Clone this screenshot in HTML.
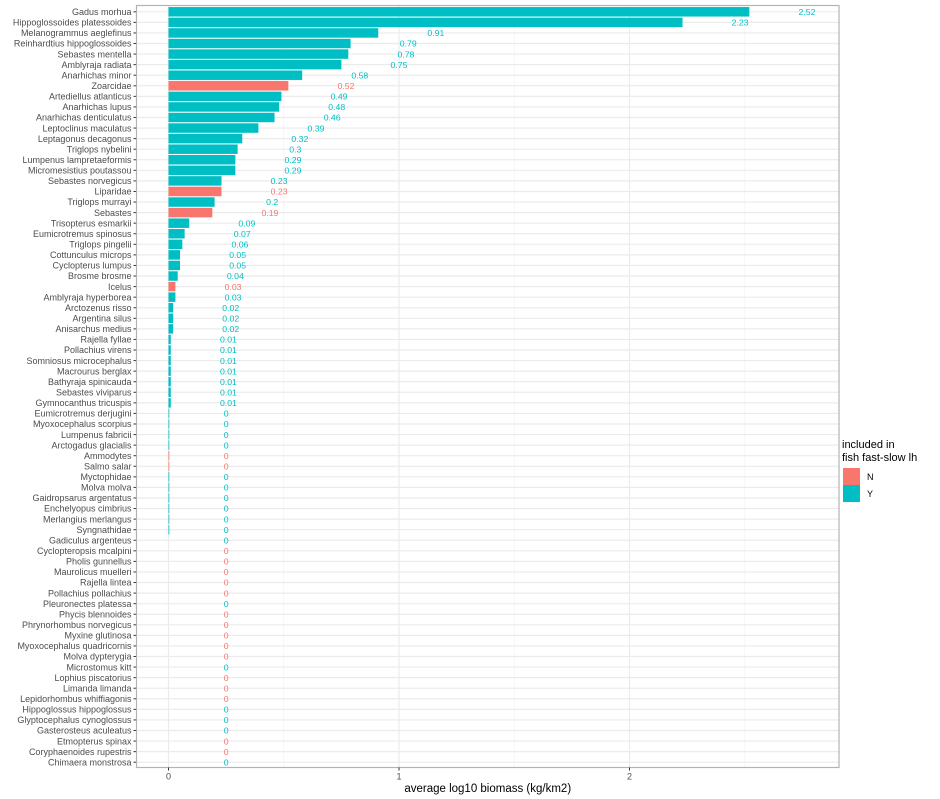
<!DOCTYPE html>
<html><head><meta charset="utf-8"><style>
body{margin:0;background:#fff;}
svg{display:block;font-family:"Liberation Sans",sans-serif;}
</style></head><body>
<svg id="s" width="940" height="799" xmlns="http://www.w3.org/2000/svg"></svg>
<script>
const d=[
["Gadus morhua",2.52,"Y"],["Hippoglossoides platessoides",2.23,"Y"],["Melanogrammus aeglefinus",0.91,"Y"],
["Reinhardtius hippoglossoides",0.79,"Y"],["Sebastes mentella",0.78,"Y"],["Amblyraja radiata",0.75,"Y"],
["Anarhichas minor",0.58,"Y"],["Zoarcidae",0.52,"N"],["Artediellus atlanticus",0.49,"Y"],
["Anarhichas lupus",0.48,"Y"],["Anarhichas denticulatus",0.46,"Y"],["Leptoclinus maculatus",0.39,"Y"],
["Leptagonus decagonus",0.32,"Y"],["Triglops nybelini",0.3,"Y"],["Lumpenus lampretaeformis",0.29,"Y"],
["Micromesistius poutassou",0.29,"Y"],["Sebastes norvegicus",0.23,"Y"],["Liparidae",0.23,"N"],
["Triglops murrayi",0.2,"Y"],["Sebastes",0.19,"N"],["Trisopterus esmarkii",0.09,"Y"],
["Eumicrotremus spinosus",0.07,"Y"],["Triglops pingelii",0.06,"Y"],["Cottunculus microps",0.05,"Y"],
["Cyclopterus lumpus",0.05,"Y"],["Brosme brosme",0.04,"Y"],["Icelus",0.03,"N"],
["Amblyraja hyperborea",0.03,"Y"],["Arctozenus risso",0.02,"Y"],["Argentina silus",0.02,"Y"],
["Anisarchus medius",0.02,"Y"],["Rajella fyllae",0.01,"Y"],["Pollachius virens",0.01,"Y"],
["Somniosus microcephalus",0.01,"Y"],["Macrourus berglax",0.01,"Y"],["Bathyraja spinicauda",0.01,"Y"],
["Sebastes viviparus",0.01,"Y"],["Gymnocanthus tricuspis",0.01,"Y"],["Eumicrotremus derjugini",0,"Y",1],
["Myoxocephalus scorpius",0,"Y",1],["Lumpenus fabricii",0,"Y",1],["Arctogadus glacialis",0,"Y",1],
["Ammodytes",0,"N",1],["Salmo salar",0,"N",1],["Myctophidae",0,"Y",1],["Molva molva",0,"Y",1],
["Gaidropsarus argentatus",0,"Y",1],["Enchelyopus cimbrius",0,"Y",1],["Merlangius merlangus",0,"Y",1],
["Syngnathidae",0,"Y",1],["Gadiculus argenteus",0,"Y"],["Cyclopteropsis mcalpini",0,"N"],
["Pholis gunnellus",0,"N"],["Maurolicus muelleri",0,"N"],["Rajella lintea",0,"N"],
["Pollachius pollachius",0,"N"],["Pleuronectes platessa",0,"Y"],["Phycis blennoides",0,"N"],
["Phrynorhombus norvegicus",0,"N"],["Myxine glutinosa",0,"N"],["Myoxocephalus quadricornis",0,"N"],
["Molva dypterygia",0,"N"],["Microstomus kitt",0,"Y"],["Lophius piscatorius",0,"N"],
["Limanda limanda",0,"N"],["Lepidorhombus whiffiagonis",0,"N"],["Hippoglossus hippoglossus",0,"Y"],
["Glyptocephalus cynoglossus",0,"Y"],["Gasterosteus aculeatus",0,"Y"],["Etmopterus spinax",0,"N"],
["Coryphaenoides rupestris",0,"N"],["Chimaera monstrosa",0,"Y"]];
const L=136.5,R=839,T=5.5,B=767.5,x0=168.5,u=230.5,y0=11.8,dy=(762.2-11.8)/71;
const C={Y:"#00BFC4",N:"#F8766D"};
let s=`<rect x="${L}" y="${T}" width="${R-L}" height="${B-T}" fill="#fff"/>`;
[0.5,1.5,2.5].forEach(v=>s+=`<line x1="${x0+v*u}" x2="${x0+v*u}" y1="${T}" y2="${B}" stroke="#f3f3f3" stroke-width="0.7"/>`);
[0,1,2].forEach(v=>s+=`<line x1="${x0+v*u}" x2="${x0+v*u}" y1="${T}" y2="${B}" stroke="#ebebeb" stroke-width="1.2"/>`);
d.forEach((r,i)=>{const y=y0+i*dy;s+=`<line x1="${L}" x2="${R}" y1="${y}" y2="${y}" stroke="#ebebeb" stroke-width="1.2"/>`;});
d.forEach((r,i)=>{const y=y0+i*dy;let w=r[1]*u;if(r[3])w=0.8;
 if(w>0)s+=`<rect x="${x0}" y="${y-4.75}" width="${w}" height="9.5" fill="${C[r[2]]}"/>`;
 s+=`<text x="${x0+(r[1]+0.25)*u}" y="${y+3.2}" font-size="8.7" fill="${C[r[2]]}" text-anchor="middle">${r[1]}</text>`;
 s+=`<text x="${L-5}" y="${y+3.2}" font-size="9" fill="#4d4d4d" text-anchor="end">${r[0]}</text>`;
 s+=`<line x1="${L-3}" x2="${L}" y1="${y}" y2="${y}" stroke="#333" stroke-width="1"/>`;});
s+=`<rect x="${L}" y="${T}" width="${R-L}" height="${B-T}" fill="none" stroke="#b3b3b3" stroke-width="1.2"/>`;
[0,1,2].forEach(v=>{const x=x0+v*u;s+=`<line x1="${x}" x2="${x}" y1="${B}" y2="${B+3}" stroke="#333"/><text x="${x}" y="${B+12}" font-size="9" fill="#4d4d4d" text-anchor="middle">${v}</text>`;});
s+=`<text x="${(L+R)/2}" y="792" font-size="11.5" fill="#000" text-anchor="middle">average log10 biomass (kg/km2)</text>`;
s+=`<text x="842" y="448" font-size="11" fill="#000">included in</text><text x="842" y="461" font-size="11" fill="#000">fish fast-slow lh</text>`;
s+=`<rect x="843" y="468" width="17" height="17" fill="#F8766D"/><rect x="843" y="485" width="17" height="17" fill="#00BFC4"/>`;
s+=`<text x="867" y="480" font-size="9" fill="#000">N</text><text x="867" y="497" font-size="9" fill="#000">Y</text>`;
document.getElementById("s").innerHTML=s;
</script>
</body></html>
